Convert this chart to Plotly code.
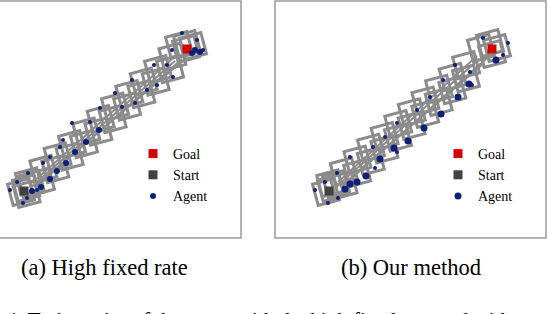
import plotly.graph_objects as go

# ---------------- data (units: 1 = 10 px of the original panel) ----------------
start_xy = (5.4, 4.7)
goal_xy = (21.7, 18.9)

# left panel: "High fixed rate"
a_sq_x = [5.1, 5.6, 6.1, 5.89, 7.33, 8.76, 10.20, 11.63, 13.07, 14.50, 15.93, 17.37, 18.80, 20.24,
          5.66, 7.10, 8.53, 9.97, 11.40, 12.84, 14.27, 15.71, 17.14, 18.57, 20.01,
          20.9, 21.7, 22.3, 21.6]
a_sq_y = [4.6, 5.0, 5.4, 5.66, 6.91, 8.16, 9.40, 10.65, 11.90, 13.15, 14.40, 15.65, 16.89, 18.14,
          4.40, 5.65, 6.89, 8.14, 9.39, 10.64, 11.89, 13.14, 14.38, 15.63, 16.88,
          19.3, 19.4, 19.2, 18.9]
a_line_x0 = [6.0, 6.4, 6.2, 6.8]
a_line_y0 = [5.0, 5.1, 5.5, 5.3]
a_line_x1 = [20.5, 20.9, 20.3, 21.2]
a_line_y1 = [17.7, 17.4, 18.0, 17.9]
a_dot_x = [21.2, 22.7, 23.3, 20.2, 19.7, 18.4, 20.3, 18.7, 17.7, 16.2, 14.5, 13.0, 12.0, 10.2,
           9.3, 9.0, 8.0, 7.3, 5.8, 4.7, 4.0, 5.7, 5.3, 6.7, 15.2, 16.5]
a_dot_y = [20.5, 19.8, 18.8, 18.8, 17.3, 17.3, 16.1, 15.3, 14.8, 15.8, 14.5, 13.0, 11.6, 11.5,
           9.8, 9.1, 8.1, 7.5, 6.5, 5.6, 4.8, 4.0, 3.5, 4.8, 13.1, 13.5]
a_big_x = [6.2, 7.1, 8.0, 8.7, 9.6, 10.5, 11.6, 12.9, 22.5, 23.0, 22.2]
a_big_y = [4.7, 5.1, 5.9, 6.7, 7.5, 8.6, 9.6, 10.8, 18.8, 18.6, 18.5]

# right panel: "Our method"
b_sq_x = [5.1, 5.6, 6.1, 5.52, 6.88, 8.24, 9.60, 10.96, 12.32, 13.68, 15.04, 16.40, 17.76, 19.11,
          6.86, 8.22, 9.58, 10.94, 12.30, 13.66, 15.02, 16.37, 17.73, 19.09,
          20.6, 21.5, 22.2, 21.7]
b_sq_y = [4.6, 5.0, 5.4, 5.47, 6.66, 7.84, 9.02, 10.20, 11.39, 12.57, 13.75, 14.93, 16.12, 17.30,
          5.31, 6.49, 7.67, 8.86, 10.04, 11.22, 12.40, 13.59, 14.77, 15.95,
          19.0, 19.5, 19.0, 18.4]
b_line_x0 = [6.0, 6.5, 6.3, 6.9]
b_line_y0 = [5.0, 5.1, 5.6, 5.3]
b_line_x1 = [20.4, 20.9, 20.2, 21.1]
b_line_y1 = [17.9, 17.5, 18.2, 17.9]
b_dot_x = [23.3, 20.8, 22.8, 19.5, 18.0, 16.8, 19.7, 15.5, 14.2, 12.2, 11.0, 9.8, 12.2, 7.5,
           6.2, 5.0, 4.0, 5.3, 6.3, 10.0]
b_dot_y = [19.5, 20.0, 18.3, 16.6, 17.3, 15.8, 15.3, 14.1, 12.8, 11.5, 10.1, 9.1, 8.6, 8.1,
           6.5, 5.6, 4.8, 3.5, 4.0, 7.0]
b_big_x = [18.3, 16.6, 14.9, 13.3, 11.9, 10.5, 9.1, 8.2, 7.5, 7.0, 22.1, 19.4]
b_big_y = [14.1, 12.4, 11.0, 9.7, 9.0, 7.9, 6.2, 5.6, 5.4, 4.9, 17.8, 15.4]

captions = ["(a) High fixed rate", "(b) Our method"]
fig_caption = "Fig. 4: Trajectories of the agent with the high fixed rate and with our method, from the start to the goal."

# ---------------- styling ----------------
W, H = 548, 314
GRAY = "#8b8b8b"
NAVY = "#0d1f78"
RED = "#d40000"
DARK = "#414141"
FONT = "Liberation Serif"

fig = go.Figure()

panels = [
    dict(xa="x", ya="y", legend="legend",
         sqx=a_sq_x, sqy=a_sq_y, lx0=a_line_x0, ly0=a_line_y0, lx1=a_line_x1, ly1=a_line_y1,
         dx=a_dot_x, dy=a_dot_y, bx=a_big_x, by=a_big_y, big=6),
    dict(xa="x2", ya="y2", legend="legend2",
         sqx=b_sq_x, sqy=b_sq_y, lx0=b_line_x0, ly0=b_line_y0, lx1=b_line_x1, ly1=b_line_y1,
         dx=b_dot_x, dy=b_dot_y, bx=b_big_x, by=b_big_y, big=7),
]

for p in panels:
    for x0, y0, x1, y1 in zip(p["lx0"], p["ly0"], p["lx1"], p["ly1"]):
        fig.add_trace(go.Scatter(x=[x0, x1], y=[y0, y1], mode="lines",
                                 line=dict(color=GRAY, width=2), showlegend=False,
                                 xaxis=p["xa"], yaxis=p["ya"], hoverinfo="skip"))
    fig.add_trace(go.Scatter(x=p["sqx"], y=p["sqy"], mode="markers",
                             marker=dict(symbol="square-open", size=22, color=GRAY, angle=-15,
                                         line=dict(width=3, color=GRAY)),
                             showlegend=False, xaxis=p["xa"], yaxis=p["ya"], hoverinfo="skip"))
    fig.add_trace(go.Scatter(x=p["dx"], y=p["dy"], mode="markers",
                             marker=dict(symbol="circle", size=4, color=NAVY),
                             showlegend=False, xaxis=p["xa"], yaxis=p["ya"]))
    fig.add_trace(go.Scatter(x=[goal_xy[0]], y=[goal_xy[1]], mode="markers", name="Goal",
                             marker=dict(symbol="square", size=9, color=RED),
                             legend=p["legend"], xaxis=p["xa"], yaxis=p["ya"]))
    fig.add_trace(go.Scatter(x=[start_xy[0]], y=[start_xy[1]], mode="markers", name="Start",
                             marker=dict(symbol="square", size=9, color=DARK),
                             legend=p["legend"], xaxis=p["xa"], yaxis=p["ya"]))
    fig.add_trace(go.Scatter(x=p["bx"], y=p["by"], mode="markers", name="Agent",
                             marker=dict(symbol="circle", size=p["big"], color=NAVY),
                             legend=p["legend"], xaxis=p["xa"], yaxis=p["ya"]))

ydom = [1 - 238 / H, 1 - 1 / H]
ax = dict(showgrid=False, zeroline=False, showticklabels=False, ticks="", showline=False)
fig.update_layout(
    width=W, height=H, margin=dict(l=0, r=0, t=0, b=0),
    paper_bgcolor="white", plot_bgcolor="white",
    font=dict(family=FONT, size=14, color="black"),
    xaxis=dict(domain=[0, 241 / W], range=[3.0, 27.1], **ax),
    yaxis=dict(domain=ydom, range=[0, 23.7], **ax),
    xaxis2=dict(domain=[275 / W, 546 / W], range=[0, 27.1], **ax),
    yaxis2=dict(domain=ydom, range=[0, 23.7], anchor="x2", **ax),
    legend=dict(x=133 / W, y=1 - 138 / H, xanchor="left", yanchor="top", tracegroupgap=0,
                bgcolor="rgba(0,0,0,0)", font=dict(family=FONT, size=14)),
    legend2=dict(x=438 / W, y=1 - 138 / H, xanchor="left", yanchor="top", tracegroupgap=0,
                 bgcolor="rgba(0,0,0,0)", font=dict(family=FONT, size=14)),
    showlegend=True,
)

# panel frames
for x0, x1 in [(-30, 241), (275, 546)]:
    fig.add_shape(type="rect", xref="paper", yref="paper",
                  x0=x0 / W, x1=x1 / W, y0=1 - 238 / H, y1=1 - 1 / H,
                  line=dict(color="#9a9a9a", width=1.5), layer="above")

for txt, cx in zip(captions, [104, 411]):
    fig.add_annotation(text=txt, x=cx / W, y=1 - 267 / H, xref="paper", yref="paper",
                       xanchor="center", yanchor="middle", showarrow=False,
                       font=dict(family=FONT, size=22.5, color="black"))
fig.add_annotation(text=fig_caption, x=-34 / W, y=1 - 306 / H, xref="paper", yref="paper",
                   xanchor="left", yanchor="top", showarrow=False,
                   font=dict(family=FONT, size=21, color="black"))

fig.write_html("out.html", config={"displayModeBar": False},
               post_script="document.body.style.margin='0';document.body.style.overflow='hidden';")
